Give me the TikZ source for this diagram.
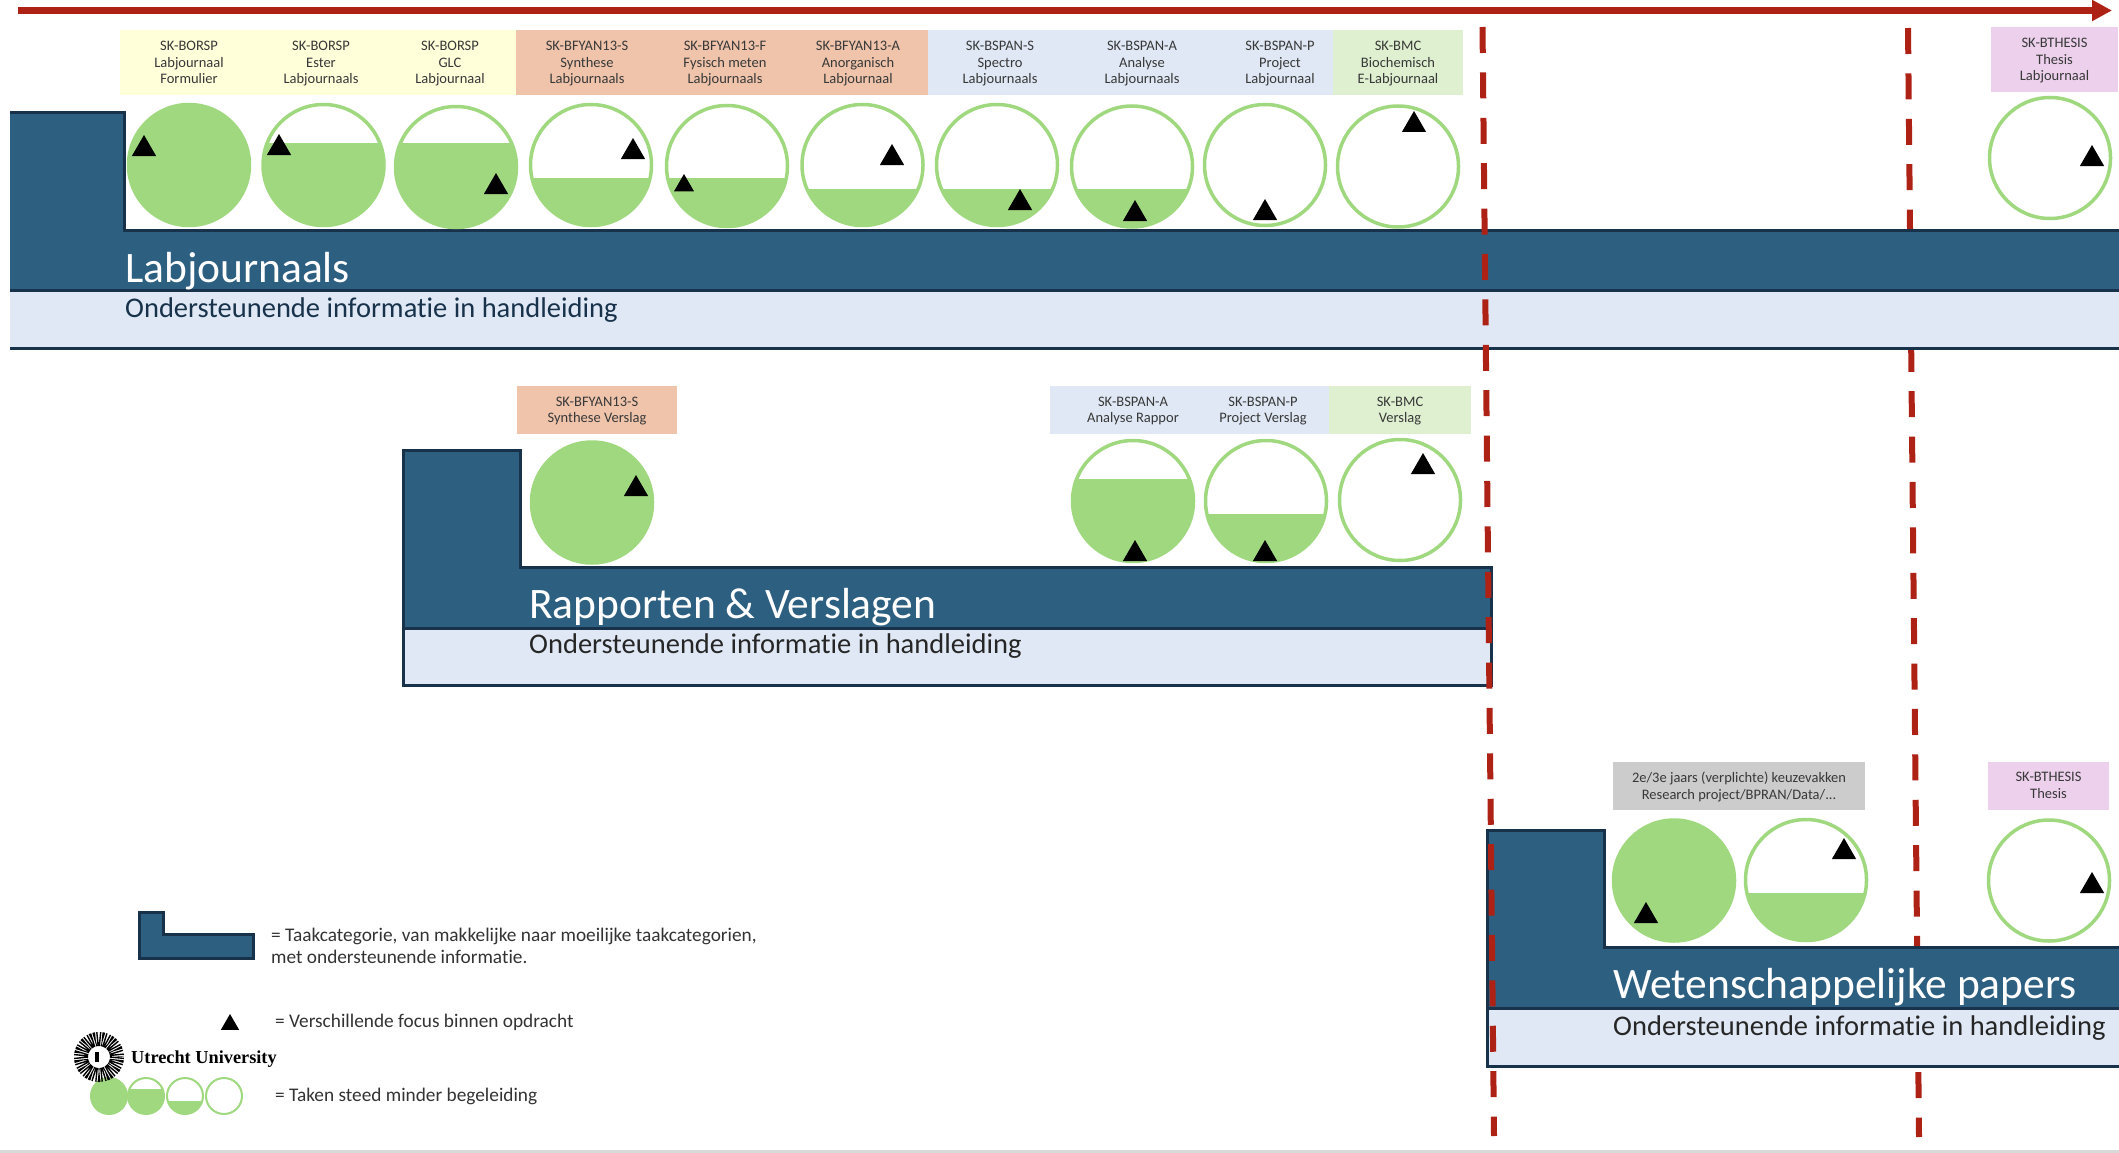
\documentclass[tikz,border=0pt]{standalone}
\usepackage{fontspec}
\setmainfont[Ligatures=NoCommon]{Carlito}
\newfontfamily\logofont{Liberation Serif}
\usetikzlibrary{arrows.meta,shapes.geometric}
\definecolor{darkred}{HTML}{AE2216}
\definecolor{bandblue}{HTML}{2D5F80}
\definecolor{bandedge}{HTML}{17324A}
\definecolor{infoblue}{HTML}{DFE8F4}
\definecolor{tint}{HTML}{A0D87F}
\definecolor{lemon}{HTML}{FFFFD9}
\definecolor{salmon}{HTML}{EFC4AB}
\definecolor{mint}{HTML}{DEF0D0}
\definecolor{lilac}{HTML}{ECD0EC}
\definecolor{ash}{HTML}{CCCCCC}
\tikzset{
  tag/.style={rectangle,inner sep=0pt,outer sep=0pt,minimum height=65pt,align=center,text=black!78,
    text depth=0pt,font=\fontsize{14.5}{16.5}\selectfont},
  tagtwo/.style={tag,minimum height=48pt},
  ring/.style={circle,draw=tint,line width=3.5pt,fill=white,inner sep=0pt,outer sep=0pt,minimum size=121pt},
  full/.style={ring,fill=tint},
  gauge/.style={ring,path picture={\fill[tint] ([yshift=#1pt]path picture bounding box.west)
    rectangle (path picture bounding box.south east);}},
  focus/.style={regular polygon,regular polygon sides=3,fill=black,inner sep=0pt,outer sep=0pt,
    minimum size=28pt,anchor=corner 1},
  edge/.style={draw=bandedge,line width=3pt,line join=miter},
  title/.style={anchor=base west,inner sep=0pt,text=white,font=\fontsize{43.5}{43.5}\selectfont},
  info/.style={anchor=base west,inner sep=0pt,text=bandedge,font=\fontsize{28.5}{28.5}\selectfont},
  legend/.style={anchor=base west,inner sep=0pt,align=left,text=black!80,font=\fontsize{19.3}{22}\selectfont},
  phase/.style={draw=darkred,line width=6pt,dash pattern=on 26pt off 19.4pt}
}
\begin{document}
\begin{tikzpicture}[x=1pt,y=-1pt]
  \useasboundingbox (0,0) rectangle (2119,1153);
  % time arrow and the phase line that runs behind the bands
  \coordinate (a0) at (18,10.5);
  \coordinate (a1) at (2112,10.5);
  \coordinate (p0) at (1482.5,27);
  \coordinate (p1) at (1494,1136);
  \coordinate (q0) at (1908,28);
  \coordinate (q1) at (1919,1137);
  \draw[darkred,line width=7pt,-{Triangle[length=20pt,width=20pt]}] (a0) -- (a1);
  \draw[phase] (q0) -- (q1);
  % three bands
  \fill[infoblue] (10,290) rectangle (2119,348);
  \fill[bandblue] (10,113) -- (124,113) -- (124,230) -- (2119,230) -- (2119,290) -- (10,290) -- cycle;
  \draw[edge] (10,113) -- (124,113) -- (124,230) -- (2119,230);
  \draw[edge] (10,290) -- (2119,290);
  \draw[edge] (10,348) -- (2119,348);
  \fill[infoblue] (403,628) rectangle (1491,685);
  \fill[bandblue] (403,450) -- (520,450) -- (520,567) -- (1491,567) -- (1491,628) -- (403,628) -- cycle;
  \draw[edge] (403,450) -- (520,450) -- (520,567) -- (1491,567) -- (1491,685) -- (403,685) -- cycle;
  \draw[edge] (403,628) -- (1491,628);
  \fill[infoblue] (1487,1008) rectangle (2119,1066);
  \fill[bandblue] (1487,830) -- (1604,830) -- (1604,947) -- (2119,947) -- (2119,1008) -- (1487,1008) -- cycle;
  \draw[edge] (2119,947) -- (1604,947) -- (1604,830) -- (1487,830) -- (1487,1066) -- (2119,1066);
  \draw[edge] (1487,1008) -- (2119,1008);
  \draw[phase] (p0) -- (p1);
  % band texts
  \node[title] (b1) at (125,282) {Labjournaals};
  \node[info] (i1) at (125,317) {Ondersteunende informatie in handleiding};
  \node[title] (b2) at (529,618) {Rapporten \& Verslagen};
  \node[info,text=black!85] (i2) at (529,653) {Ondersteunende informatie in handleiding};
  \node[title] (b3) at (1613,998) {Wetenschappelijke papers};
  \node[info,text=black!85] (i3) at (1613,1035) {Ondersteunende informatie in handleiding};
  % first row
  \node[tag,fill=lemon,minimum width=138pt] (l1) at (189,62.5) {SK-BORSP\\Labjournaal\\Formulier};
  \node[tag,fill=lemon,minimum width=127pt] (l2) at (321,62.5) {SK-BORSP\\Ester\\Labjournaals};
  \node[tag,fill=lemon,minimum width=132pt] (l3) at (450,62.5) {SK-BORSP\\GLC\\Labjournaal};
  \node[tag,fill=salmon,minimum width=142pt] (l4) at (587,62.5) {SK-BFYAN13-S\\Synthese\\Labjournaals};
  \node[tag,fill=salmon,minimum width=134pt] (l5) at (725,62.5) {SK-BFYAN13-F\\Fysisch meten\\Labjournaals};
  \node[tag,fill=salmon,minimum width=140pt] (l6) at (858,62.5) {SK-BFYAN13-A\\Anorganisch\\Labjournaal};
  \node[tag,fill=infoblue,minimum width=144pt] (l7) at (1000,62.5) {SK-BSPAN-S\\Spectro\\Labjournaals};
  \node[tag,fill=infoblue,minimum width=140pt] (l8) at (1142,62.5) {SK-BSPAN-A\\Analyse\\Labjournaals};
  \node[tag,fill=infoblue,minimum width=138pt] (l9) at (1280,62.5) {SK-BSPAN-P\\Project\\Labjournaal};
  \node[tag,fill=mint,minimum width=130pt] (l10) at (1398,62.5) {SK-BMC\\Biochemisch\\E-Labjournaal};
  \node[tag,fill=lilac,minimum width=127pt] (l11) at (2054.5,59.5) {SK-BTHESIS\\Thesis\\Labjournaal};
  \node[full] (c1) at (189,165) {};
  \node[gauge=22] (c2) at (323.5,165) {};
  \node[gauge=24] (c3) at (456,167) {};
  \node[gauge=-13] (c4) at (591,165) {};
  \node[gauge=-12] (c5) at (727,166) {};
  \node[gauge=-24] (c6) at (862.5,165) {};
  \node[gauge=-24] (c7) at (997,165) {};
  \node[gauge=-22.5] (c8) at (1132,166.5) {};
  \node[ring] (c9) at (1265,165) {};
  \node[ring] (c10) at (1398,166.5) {};
  \node[ring] (c11) at (2050,158) {};
  \node[focus] (t1) at (144,135) {};
  \node[focus] (t2) at (279,134) {};
  \node[focus] (t3) at (496,173) {};
  \node[focus] (t4) at (633,138) {};
  \node[focus,minimum size=23pt] (t5) at (684,174) {};
  \node[focus] (t6) at (892,144) {};
  \node[focus] (t7) at (1020,189) {};
  \node[focus] (t8) at (1135,200) {};
  \node[focus] (t9) at (1265,199) {};
  \node[focus] (t10) at (1414,111) {};
  \node[focus] (t11) at (2092,145) {};
  % second row
  \node[tagtwo,fill=salmon,minimum width=160pt] (m1) at (597,410) {SK-BFYAN13-S\\Synthese Verslag};
  \node[tagtwo,fill=infoblue,minimum width=166pt] (m2) at (1133,410) {SK-BSPAN-A\\Analyse Rappor};
  \node[tagtwo,fill=infoblue,minimum width=132pt] (m3) at (1263,410) {SK-BSPAN-P\\Project Verslag};
  \node[tagtwo,fill=mint,minimum width=142pt] (m4) at (1400,410) {SK-BMC\\Verslag};
  \node[full] (d1) at (592,502.5) {};
  \node[gauge=22] (d2) at (1133,501) {};
  \node[gauge=-13] (d3) at (1266,501) {};
  \node[ring] (d4) at (1400,500) {};
  \node[focus] (u1) at (636,475) {};
  \node[focus] (u2) at (1135,540) {};
  \node[focus] (u3) at (1265,540) {};
  \node[focus] (u4) at (1423,453) {};
  % third row
  \node[tagtwo,fill=ash,minimum width=252pt] (n1) at (1739,785.5) {2e/3e jaars (verplichte) keuzevakken\\Research project/BPRAN/Data/...};
  \node[tagtwo,fill=lilac,minimum width=121pt] (n2) at (2048.5,785.5) {SK-BTHESIS\\Thesis};
  \node[full] (e1) at (1674,880.5) {};
  \node[gauge=-13] (e2) at (1806,880) {};
  \node[ring] (e3) at (2049,880.5) {};
  \node[focus] (v1) at (1646,902) {};
  \node[focus] (v2) at (1844,838) {};
  \node[focus] (v3) at (2092,872) {};
  % legend
  \draw[edge,fill=bandblue] (139.5,912) -- (163,912) -- (163,934) -- (253,934) -- (253,958) -- (139.5,958) -- cycle;
  \node[legend] (k1) at (271,963) {= Taakcategorie, van makkelijke naar moeilijke taakcategorien,\\met ondersteunende informatie.};
  \node[focus,minimum size=21pt] (k2) at (230,1014) {};
  \node[legend] (k3) at (275,1027) {= Verschillende focus binnen opdracht};
  \node[full,minimum size=36pt,line width=2pt] (k4) at (109,1096) {};
  \node[gauge=7,minimum size=36pt,line width=2pt] (k5) at (146,1096) {};
  \node[gauge=-5,minimum size=36pt,line width=2pt] (k6) at (185,1096) {};
  \node[ring,minimum size=36pt,line width=2pt] (k7) at (224,1096) {};
  \node[legend] (k8) at (275,1101) {= Taken steed minder begeleiding};
  % logo
  \coordinate (w0) at (99,1057);
  \draw[line width=14pt,dash pattern=on 1.4pt off 1.1pt] (w0) circle (18);
  \fill[black] (95,1052) rectangle (103,1062);
  \fill[white] (99,1052) rectangle (103,1062);
  \node[anchor=base west,inner sep=0pt] (w1) at (131,1063) {\logofont\fontsize{18.3}{18.3}\selectfont\bfseries Utrecht University};
  % bottom edge
  \fill[black!15] (0,1150) rectangle (2119,1153);
\end{tikzpicture}
\end{document}
